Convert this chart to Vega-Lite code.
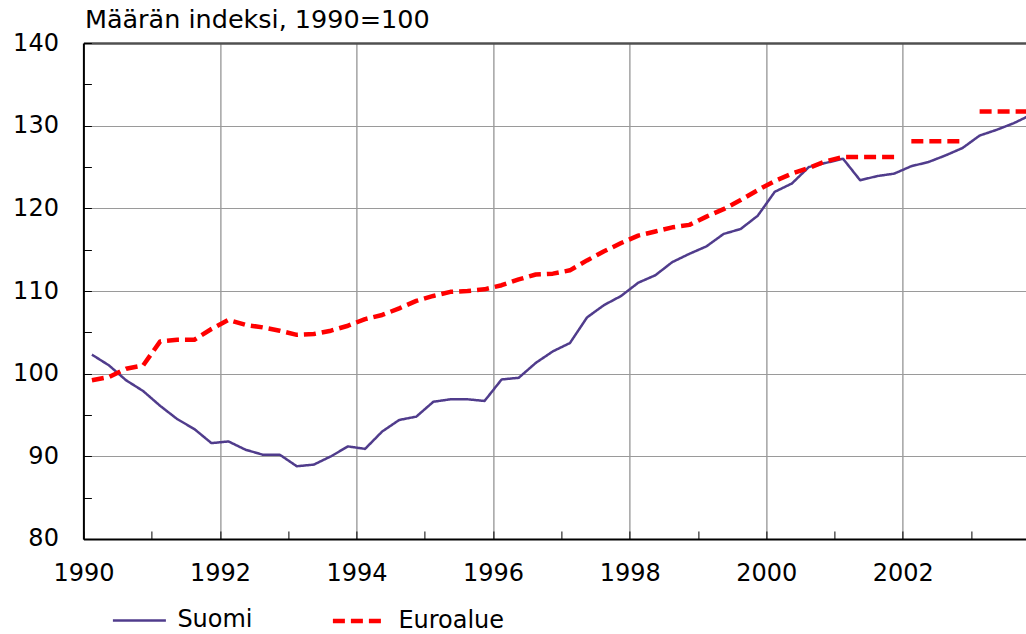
{
  "$schema": "https://vega.github.io/schema/vega-lite/v6.json",
  "width": 943,
  "height": 496,
  "autosize": "none",
  "padding": {"left": 83.4, "top": 43, "right": 0, "bottom": 95},
  "background": "white",
  "config": {
    "view": {"stroke": null},
    "font": "DejaVu Sans"
  },
  "data": {
    "values": [
      {"t": 1990.125, "value": 102.3, "series": "Suomi", "seg": "s"},
      {"t": 1990.375, "value": 101.0, "series": "Suomi", "seg": "s"},
      {"t": 1990.625, "value": 99.2, "series": "Suomi", "seg": "s"},
      {"t": 1990.875, "value": 97.9, "series": "Suomi", "seg": "s"},
      {"t": 1991.125, "value": 96.1, "series": "Suomi", "seg": "s"},
      {"t": 1991.375, "value": 94.5, "series": "Suomi", "seg": "s"},
      {"t": 1991.625, "value": 93.3, "series": "Suomi", "seg": "s"},
      {"t": 1991.875, "value": 91.6, "series": "Suomi", "seg": "s"},
      {"t": 1992.125, "value": 91.8, "series": "Suomi", "seg": "s"},
      {"t": 1992.375, "value": 90.8, "series": "Suomi", "seg": "s"},
      {"t": 1992.625, "value": 90.2, "series": "Suomi", "seg": "s"},
      {"t": 1992.875, "value": 90.2, "series": "Suomi", "seg": "s"},
      {"t": 1993.125, "value": 88.8, "series": "Suomi", "seg": "s"},
      {"t": 1993.375, "value": 89.0, "series": "Suomi", "seg": "s"},
      {"t": 1993.625, "value": 90.0, "series": "Suomi", "seg": "s"},
      {"t": 1993.875, "value": 91.2, "series": "Suomi", "seg": "s"},
      {"t": 1994.125, "value": 90.9, "series": "Suomi", "seg": "s"},
      {"t": 1994.375, "value": 93.0, "series": "Suomi", "seg": "s"},
      {"t": 1994.625, "value": 94.4, "series": "Suomi", "seg": "s"},
      {"t": 1994.875, "value": 94.8, "series": "Suomi", "seg": "s"},
      {"t": 1995.125, "value": 96.6, "series": "Suomi", "seg": "s"},
      {"t": 1995.375, "value": 96.9, "series": "Suomi", "seg": "s"},
      {"t": 1995.625, "value": 96.9, "series": "Suomi", "seg": "s"},
      {"t": 1995.875, "value": 96.7, "series": "Suomi", "seg": "s"},
      {"t": 1996.125, "value": 99.3, "series": "Suomi", "seg": "s"},
      {"t": 1996.375, "value": 99.5, "series": "Suomi", "seg": "s"},
      {"t": 1996.625, "value": 101.3, "series": "Suomi", "seg": "s"},
      {"t": 1996.875, "value": 102.7, "series": "Suomi", "seg": "s"},
      {"t": 1997.125, "value": 103.7, "series": "Suomi", "seg": "s"},
      {"t": 1997.375, "value": 106.8, "series": "Suomi", "seg": "s"},
      {"t": 1997.625, "value": 108.3, "series": "Suomi", "seg": "s"},
      {"t": 1997.875, "value": 109.4, "series": "Suomi", "seg": "s"},
      {"t": 1998.125, "value": 111.0, "series": "Suomi", "seg": "s"},
      {"t": 1998.375, "value": 111.9, "series": "Suomi", "seg": "s"},
      {"t": 1998.625, "value": 113.5, "series": "Suomi", "seg": "s"},
      {"t": 1998.875, "value": 114.5, "series": "Suomi", "seg": "s"},
      {"t": 1999.125, "value": 115.4, "series": "Suomi", "seg": "s"},
      {"t": 1999.375, "value": 116.9, "series": "Suomi", "seg": "s"},
      {"t": 1999.625, "value": 117.5, "series": "Suomi", "seg": "s"},
      {"t": 1999.875, "value": 119.1, "series": "Suomi", "seg": "s"},
      {"t": 2000.125, "value": 122.0, "series": "Suomi", "seg": "s"},
      {"t": 2000.375, "value": 123.0, "series": "Suomi", "seg": "s"},
      {"t": 2000.625, "value": 125.0, "series": "Suomi", "seg": "s"},
      {"t": 2000.875, "value": 125.5, "series": "Suomi", "seg": "s"},
      {"t": 2001.125, "value": 126.0, "series": "Suomi", "seg": "s"},
      {"t": 2001.375, "value": 123.4, "series": "Suomi", "seg": "s"},
      {"t": 2001.625, "value": 123.9, "series": "Suomi", "seg": "s"},
      {"t": 2001.875, "value": 124.2, "series": "Suomi", "seg": "s"},
      {"t": 2002.125, "value": 125.1, "series": "Suomi", "seg": "s"},
      {"t": 2002.375, "value": 125.6, "series": "Suomi", "seg": "s"},
      {"t": 2002.625, "value": 126.4, "series": "Suomi", "seg": "s"},
      {"t": 2002.875, "value": 127.3, "series": "Suomi", "seg": "s"},
      {"t": 2003.125, "value": 128.8, "series": "Suomi", "seg": "s"},
      {"t": 2003.375, "value": 129.5, "series": "Suomi", "seg": "s"},
      {"t": 2003.625, "value": 130.3, "series": "Suomi", "seg": "s"},
      {"t": 2003.875, "value": 131.3, "series": "Suomi", "seg": "s"},
      {"t": 1990.125, "value": 99.2, "series": "Euroalue", "seg": "e1"},
      {"t": 1990.375, "value": 99.6, "series": "Euroalue", "seg": "e1"},
      {"t": 1990.625, "value": 100.6, "series": "Euroalue", "seg": "e1"},
      {"t": 1990.875, "value": 101.0, "series": "Euroalue", "seg": "e1"},
      {"t": 1991.125, "value": 103.9, "series": "Euroalue", "seg": "e1"},
      {"t": 1991.375, "value": 104.1, "series": "Euroalue", "seg": "e1"},
      {"t": 1991.625, "value": 104.1, "series": "Euroalue", "seg": "e1"},
      {"t": 1991.875, "value": 105.4, "series": "Euroalue", "seg": "e1"},
      {"t": 1992.125, "value": 106.5, "series": "Euroalue", "seg": "e1"},
      {"t": 1992.375, "value": 105.9, "series": "Euroalue", "seg": "e1"},
      {"t": 1992.625, "value": 105.6, "series": "Euroalue", "seg": "e1"},
      {"t": 1992.875, "value": 105.2, "series": "Euroalue", "seg": "e1"},
      {"t": 1993.125, "value": 104.7, "series": "Euroalue", "seg": "e1"},
      {"t": 1993.375, "value": 104.8, "series": "Euroalue", "seg": "e1"},
      {"t": 1993.625, "value": 105.2, "series": "Euroalue", "seg": "e1"},
      {"t": 1993.875, "value": 105.8, "series": "Euroalue", "seg": "e1"},
      {"t": 1994.125, "value": 106.6, "series": "Euroalue", "seg": "e1"},
      {"t": 1994.375, "value": 107.1, "series": "Euroalue", "seg": "e1"},
      {"t": 1994.625, "value": 107.9, "series": "Euroalue", "seg": "e1"},
      {"t": 1994.875, "value": 108.8, "series": "Euroalue", "seg": "e1"},
      {"t": 1995.125, "value": 109.4, "series": "Euroalue", "seg": "e1"},
      {"t": 1995.375, "value": 109.9, "series": "Euroalue", "seg": "e1"},
      {"t": 1995.625, "value": 110.0, "series": "Euroalue", "seg": "e1"},
      {"t": 1995.875, "value": 110.2, "series": "Euroalue", "seg": "e1"},
      {"t": 1996.125, "value": 110.7, "series": "Euroalue", "seg": "e1"},
      {"t": 1996.375, "value": 111.4, "series": "Euroalue", "seg": "e1"},
      {"t": 1996.625, "value": 112.0, "series": "Euroalue", "seg": "e1"},
      {"t": 1996.875, "value": 112.1, "series": "Euroalue", "seg": "e1"},
      {"t": 1997.125, "value": 112.5, "series": "Euroalue", "seg": "e1"},
      {"t": 1997.375, "value": 113.7, "series": "Euroalue", "seg": "e1"},
      {"t": 1997.625, "value": 114.8, "series": "Euroalue", "seg": "e1"},
      {"t": 1997.875, "value": 115.8, "series": "Euroalue", "seg": "e1"},
      {"t": 1998.125, "value": 116.7, "series": "Euroalue", "seg": "e1"},
      {"t": 1998.375, "value": 117.2, "series": "Euroalue", "seg": "e1"},
      {"t": 1998.625, "value": 117.7, "series": "Euroalue", "seg": "e1"},
      {"t": 1998.875, "value": 118.0, "series": "Euroalue", "seg": "e1"},
      {"t": 1999.125, "value": 119.0, "series": "Euroalue", "seg": "e1"},
      {"t": 1999.375, "value": 119.9, "series": "Euroalue", "seg": "e1"},
      {"t": 1999.625, "value": 121.0, "series": "Euroalue", "seg": "e1"},
      {"t": 1999.875, "value": 122.2, "series": "Euroalue", "seg": "e1"},
      {"t": 2000.125, "value": 123.3, "series": "Euroalue", "seg": "e1"},
      {"t": 2000.375, "value": 124.2, "series": "Euroalue", "seg": "e1"},
      {"t": 2000.625, "value": 124.9, "series": "Euroalue", "seg": "e1"},
      {"t": 2000.875, "value": 125.7, "series": "Euroalue", "seg": "e1"},
      {"t": 2001.125, "value": 126.2, "series": "Euroalue", "seg": "e1"},
      {"t": 2001.375, "value": 126.2, "series": "Euroalue", "seg": "e1"},
      {"t": 2001.625, "value": 126.2, "series": "Euroalue", "seg": "e1"},
      {"t": 2001.875, "value": 126.2, "series": "Euroalue", "seg": "e1"},
      {"t": 2002.125, "value": 128.1, "series": "Euroalue", "seg": "e2"},
      {"t": 2002.375, "value": 128.1, "series": "Euroalue", "seg": "e2"},
      {"t": 2002.625, "value": 128.1, "series": "Euroalue", "seg": "e2"},
      {"t": 2002.875, "value": 128.1, "series": "Euroalue", "seg": "e2"},
      {"t": 2003.125, "value": 131.7, "series": "Euroalue", "seg": "e3"},
      {"t": 2003.375, "value": 131.7, "series": "Euroalue", "seg": "e3"},
      {"t": 2003.625, "value": 131.7, "series": "Euroalue", "seg": "e3"},
      {"t": 2003.875, "value": 131.7, "series": "Euroalue", "seg": "e3"}
    ]
  },
  "mark": {"type": "line", "clip": true, "strokeCap": "butt", "strokeJoin": "round"},
  "encoding": {
    "x": {
      "field": "t",
      "type": "quantitative",
      "scale": {"domain": [1990, 2003.81], "nice": false, "zero": false},
      "axis": {
        "title": null,
        "values": [1990, 1991, 1992, 1993, 1994, 1995, 1996, 1997, 1998, 1999, 2000, 2001, 2002, 2003],
        "format": "d",
        "labelExpr": "datum.value % 2 == 0 ? datum.label : ''",
        "labelFont": "DejaVu Sans",
        "labelFontSize": 24,
        "labelColor": "#000000",
        "labelDx": 15,
        "labelPadding": 31,
        "labelFlush": false,
        "labelOverlap": false,
        "labelBound": false,
        "tickSize": -8,
        "tickColor": "#000000",
        "tickWidth": 1,
        "domainColor": "#000000",
        "domainWidth": 2,
        "grid": true,
        "gridColor": "#8c8c8c",
        "gridWidth": 1.2,
        "gridOpacity": {"condition": {"test": "datum.value % 2 != 0 || datum.value == 1990", "value": 0}, "value": 1}
      }
    },
    "y": {
      "field": "value",
      "type": "quantitative",
      "scale": {"domain": [80, 140], "nice": false, "zero": false},
      "axis": {
        "title": "Määrän indeksi, 1990=100",
        "titleAngle": 0,
        "titleX": 1,
        "titleY": -16,
        "titleAlign": "left",
        "titleBaseline": "alphabetic",
        "titleAnchor": null,
        "titleFont": "DejaVu Sans",
        "titleFontSize": 25.5,
        "titleFontWeight": "normal",
        "titleColor": "#000000",
        "values": [80, 85, 90, 95, 100, 105, 110, 115, 120, 125, 130, 135, 140],
        "labelExpr": "datum.value % 10 == 0 ? datum.label : ''",
        "labelFont": "DejaVu Sans",
        "labelFontSize": 24,
        "labelColor": "#000000",
        "labelPadding": 33,
        "labelOverlap": false,
        "tickSize": -8,
        "tickColor": "#000000",
        "tickWidth": 1,
        "domainColor": "#000000",
        "domainWidth": 2,
        "grid": true,
        "gridColor": {"condition": {"test": "datum.value == 140", "value": "#505050"}, "value": "#9a9a9a"},
        "gridWidth": {"condition": {"test": "datum.value == 140", "value": 2.5}, "value": 1.2},
        "gridOpacity": {"condition": {"test": "datum.value % 10 != 0 || datum.value == 80", "value": 0}, "value": 1}
      }
    },
    "color": {
      "field": "series",
      "type": "nominal",
      "scale": {"domain": ["Suomi", "Euroalue"], "range": ["#503C8C", "#FF0000"]},
      "legend": {
        "title": null,
        "orient": "none",
        "direction": "horizontal",
        "legendX": 28,
        "legendY": 549,
        "padding": 0,
        "symbolType": "stroke",
        "symbolSize": 2809,
        "labelFont": "DejaVu Sans",
        "labelFontSize": 24,
        "labelColor": "#000000",
        "labelOffset": 10,
        "columnPadding": 70,
        "labelLimit": 300
      }
    },
    "strokeDash": {
      "field": "series",
      "type": "nominal",
      "scale": {"domain": ["Suomi", "Euroalue"], "range": [[1, 0], [12, 6]]}
    },
    "strokeWidth": {
      "field": "series",
      "type": "nominal",
      "scale": {"domain": ["Suomi", "Euroalue"], "range": [2.5, 4.5]}
    },
    "detail": {"field": "seg", "type": "nominal"}
  }
}
